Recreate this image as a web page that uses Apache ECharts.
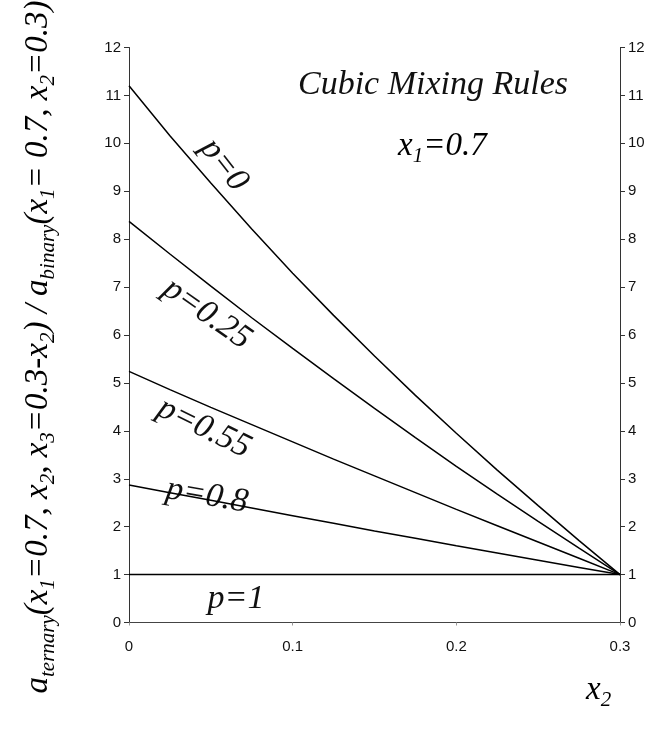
<!DOCTYPE html>
<html><head><meta charset="utf-8">
<script src="https://cdn.jsdelivr.net/npm/echarts@6/dist/echarts.min.js"></script>
<style>html,body{margin:0;padding:0;background:#fff}#c{width:652px;height:729px}</style>
</head><body><div id="c"></div>
<script>
const xValues = [0, 0.025, 0.05, 0.075, 0.1, 0.125, 0.15, 0.175, 0.2, 0.225, 0.25, 0.275, 0.3];
const p0    = [11.2, 10.16, 9.17, 8.21, 7.29, 6.41, 5.56, 4.74, 3.95, 3.18, 2.44, 1.71, 1.0];
const p025  = [8.37, 7.69, 7.02, 6.36, 5.72, 5.09, 4.47, 3.86, 3.26, 2.68, 2.11, 1.55, 1.0];
const p055  = [5.24, 4.86, 4.49, 4.13, 3.77, 3.41, 3.06, 2.71, 2.36, 2.02, 1.68, 1.34, 1.0];
const p08   = [2.87, 2.71, 2.55, 2.39, 2.23, 2.07, 1.91, 1.76, 1.60, 1.45, 1.30, 1.15, 1.0];
const p1    = [1, 1, 1, 1, 1, 1, 1, 1, 1, 1, 1, 1, 1];
const seriesNames = ['p=0', 'p=0.25', 'p=0.55', 'p=0.8', 'p=1'];
const seriesValues = [p0, p025, p055, p08, p1];

const chart = echarts.init(document.getElementById('c'), null, {renderer: 'canvas'});
const serif = '"Liberation Serif", "DejaVu Serif", serif';
const sans = '"Liberation Sans", Arial, sans-serif';

const axisCommon = {
  type: 'value', min: 0, max: 12, interval: 1,
  axisLine: {show: true, lineStyle: {color: '#333', width: 1}},
  axisTick: {show: true, length: 5, lineStyle: {color: '#333'}},
  axisLabel: {color: '#111', fontFamily: sans, fontSize: 15, margin: 8},
  splitLine: {show: false}
};

const main = {fontFamily: serif, fontStyle: 'italic', fontSize: 33, color: '#111', lineHeight: 42};
const sub = {fontFamily: serif, fontStyle: 'italic', fontSize: 21, color: '#111', lineHeight: 16, verticalAlign: 'bottom'};

function lbl(text, x, y, rotDeg, size) {
  return {type: 'text', x: x, y: y, rotation: (rotDeg || 0) * Math.PI / 180,
    style: {text: text, fontFamily: serif, fontStyle: 'italic', fontSize: size || 34, fill: '#111', align: 'center', verticalAlign: 'middle'}};
}

chart.setOption({
  animation: false,
  backgroundColor: '#fff',
  grid: {left: 129, right: 32, top: 47.5, bottom: 106.5},
  xAxis: {
    type: 'value', min: 0, max: 0.3, interval: 0.1,
    axisLine: {show: true, lineStyle: {color: '#444', width: 1}},
    axisTick: {show: true, length: 3, lineStyle: {color: '#999'}},
    axisLabel: {color: '#111', fontFamily: sans, fontSize: 15, margin: 17,
      formatter: v => (Math.round(v * 10) / 10).toString()},
    splitLine: {show: false}
  },
  yAxis: [
    Object.assign({}, axisCommon, {position: 'left'}),
    Object.assign({}, axisCommon, {position: 'right'})
  ],
  series: seriesValues.map((vals, i) => ({
    name: seriesNames[i], type: 'line', showSymbol: false, symbol: 'none', yAxisIndex: 0,
    data: xValues.map((x, j) => [x, vals[j]]),
    lineStyle: {color: '#000', width: 1.5}
  })),
  graphic: [
    {type: 'text', left: 298, top: 68, style: {text: 'Cubic Mixing Rules', fontFamily: serif, fontStyle: 'italic', fontSize: 34, fill: '#111'}},
    {type: 'text', x: 398, y: 146, style: {
      text: '{m|x}{s|1}{m|=0.7}', rich: {m: main, s: sub}, verticalAlign: 'middle'}},
    lbl('p=0', 224, 165, -52),
    lbl('p=0.25', 207, 314, -35),
    lbl('p=0.55', 204, 428, -26),
    lbl('p=0.8', 207, 496, -10),
    lbl('p=1', 236, 599, 0),
    {type: 'text', x: 586, y: 690, style: {text: '{m|x}{s|2}', rich: {m: main, s: sub}, verticalAlign: 'middle'}},
    {type: 'text', x: 38, y: 347, rotation: Math.PI / 2, style: {
      text: '{m|a}{s|ternary}{m|(x}{s|1}{m|=0.7, x}{s|2}{m|, x}{s|3}{m|=0.3-x}{s|2}{m|) / a}{s|binary}{m|(x}{s|1}{m|= 0.7, x}{s|2}{m|=0.3)}',
      rich: {m: main, s: sub}, align: 'center', verticalAlign: 'middle'}}
  ]
});
</script></body></html>
